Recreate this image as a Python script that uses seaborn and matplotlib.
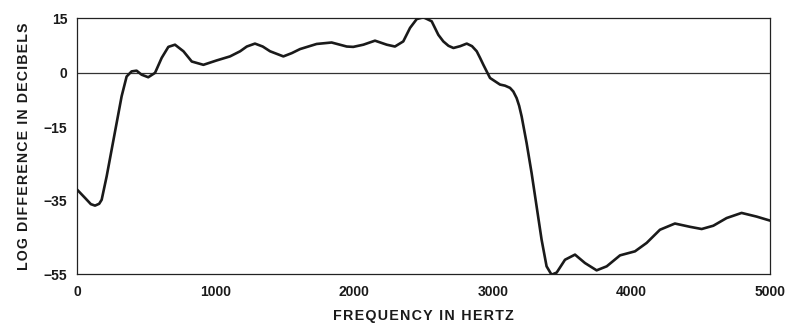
import matplotlib
matplotlib.use("Agg")
import matplotlib.pyplot as plt
import seaborn as sns
import pandas as pd

frequency_hz = [0, 58, 100, 130, 160, 178, 214, 250, 286, 322, 358, 394, 430, 466,
                514, 563, 611, 659, 707, 768, 828, 912, 1008, 1104, 1177, 1225,
                1284, 1340, 1393, 1489, 1550, 1609, 1729, 1837, 1946, 1993, 2066,
                2150, 2235, 2294, 2354, 2403, 2451, 2499, 2559, 2607, 2643, 2680,
                2716, 2765, 2812, 2850, 2884, 2908, 2932, 2956, 2980, 3016, 3052,
                3088, 3124, 3148, 3172, 3190, 3208, 3244, 3280, 3316, 3352, 3388,
                3424, 3461, 3521, 3593, 3665, 3749, 3822, 3918, 4026, 4110, 4206,
                4314, 4423, 4507, 4591, 4687, 4795, 4903, 5000]
log_diff_db = [-31.9, -34.2, -35.9, -36.3, -35.8, -34.7, -28.3, -21.0, -13.7, -6.4,
               -1.0, 0.4, 0.6, -0.5, -1.2, -0.0, 4.1, 7.1, 7.7, 5.9, 3.1, 2.2, 3.4,
               4.5, 5.9, 7.2, 8.0, 7.2, 5.9, 4.5, 5.4, 6.5, 7.9, 8.3, 7.2, 7.1, 7.7,
               8.8, 7.7, 7.2, 8.6, 12.3, 14.7, 15.2, 14.1, 10.4, 8.6, 7.4, 6.8, 7.3,
               8.0, 7.3, 5.9, 4.1, 2.2, 0.4, -1.4, -2.3, -3.2, -3.5, -4.1, -5.1,
               -6.9, -9.0, -11.9, -19.2, -27.4, -36.5, -45.6, -52.9, -55.2, -54.6,
               -51.1, -49.7, -52.0, -54.0, -52.9, -49.9, -48.8, -46.5, -42.9, -41.2,
               -42.1, -42.7, -41.8, -39.7, -38.3, -39.3, -40.4]

x_ticks = [0, 1000, 2000, 3000, 4000, 5000]
y_ticks = [15, 0, -15, -35, -55]
x_label = "FREQUENCY IN HERTZ"
y_label = "LOG DIFFERENCE IN DECIBELS"

df = pd.DataFrame({"freq": frequency_hz, "db": log_diff_db})

sns.set_style("white")
plt.rcParams["font.family"] = ["Liberation Sans", "DejaVu Sans"]

fig = plt.figure(figsize=(7.88, 3.24), dpi=100)
ax = fig.add_axes([77 / 788, 1 - 274 / 324, (770 - 77) / 788, (274 - 18) / 324])

ax.axhline(0, color="#333333", lw=0.9, zorder=1)
sns.lineplot(data=df, x="freq", y="db", ax=ax, color="#1a1a1a", lw=1.9,
             estimator=None, sort=False, zorder=3)

ax.set_xlim(0, 5000)
ax.set_ylim(-55, 15)
ax.set_xticks(x_ticks)
ax.set_yticks(y_ticks)
ax.set_yticklabels(["\u2212" + str(abs(v)) if v < 0 else str(v) for v in y_ticks])
ax.tick_params(direction="in", length=5, width=0.8, color="#333333",
               labelsize=10)
ax.tick_params(axis="x", pad=8)
ax.tick_params(axis="y", pad=7)
for lab in ax.get_xticklabels() + ax.get_yticklabels():
    lab.set_fontweight("bold")
    lab.set_color("#1a1a1a")

for s in ax.spines.values():
    s.set_color("#222222")
    s.set_linewidth(0.9)

spaced = lambda t: "\u200a".join(t)
ax.set_xlabel(spaced(x_label), fontsize=10.3, fontweight="bold", color="#1a1a1a",
              labelpad=7)
ax.set_ylabel(spaced(y_label), fontsize=10.2, fontweight="bold", color="#1a1a1a",
              labelpad=9)

fig.savefig("out.png", dpi=100)
